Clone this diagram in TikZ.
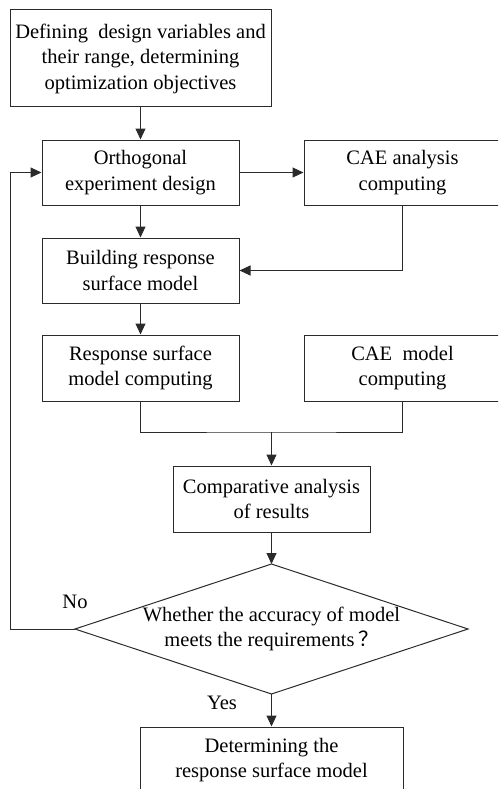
\documentclass[tikz,border=0pt]{standalone}
\usepackage{fontspec}
\setmainfont{Liberation Serif}
\newfontfamily\cjkfont{Noto Sans CJK SC}
\usetikzlibrary{arrows.meta,shapes.geometric}
\definecolor{linec}{HTML}{2B2B2B}
\begin{document}
\begin{tikzpicture}[x=1pt,y=-1pt,
  txt/.style={font=\fontsize{20.5}{25.5}\selectfont, text=black},
  box/.style={txt, draw=linec, line width=1pt, rectangle, inner sep=0pt, align=center},
  stdbox/.style={box, minimum width=197pt, minimum height=65pt},
  conn/.style={draw=linec, line width=1pt},
  arr/.style={conn, -{Triangle[length=11pt,width=10pt]}},
  lbl/.style={txt, inner sep=0pt}]
\useasboundingbox (0,0) rectangle (498,789);
\clip (0,0) rectangle (498,789);
\node[box, minimum width=261pt, minimum height=97pt] (def) at (140.5,58.5) {Defining\ \ design variables and\\their range, determining\\optimization objectives};
\node[stdbox] (orth) at (140.5,172.5) {Orthogonal\\experiment design};
\node[stdbox] (cae1) at (402.5,172.5) {CAE analysis\\computing};
\node[stdbox] (build) at (140.5,270.5) {Building response\\surface model};
\node[stdbox, minimum height=66pt] (resp) at (140.5,368) {Response surface\\model computing};
\node[stdbox, minimum height=66pt] (cae2) at (402.5,368) {CAE\ \ model\\computing};
\node[stdbox, minimum height=66pt] (comp) at (271.5,499) {Comparative analysis\\of results};
\coordinate (dt) at (271.5,564);
\coordinate (dr) at (468,629);
\coordinate (db) at (271.5,694);
\coordinate (dl) at (75,629);
\draw[conn] (dt) -- (dr) -- (db) -- (dl) -- cycle;
\node[txt, align=center, inner sep=0pt] (dec) at (271.5,629) {Whether the accuracy of model\\meets the requirements\,{\cjkfont ？}};
\node[box, minimum width=263pt, minimum height=66pt] (fin) at (271.5,760) {Determining the\\response surface model};
\node[lbl] (no) at (75,602) {No};
\node[lbl] (yes) at (222,703) {Yes};
\coordinate (m) at (271.5,432);
\coordinate (lp) at (10,629);
\draw[arr] (def.south) -- (orth.north);
\draw[arr] (orth.east) -- (cae1.west);
\draw[arr] (orth.south) -- (build.north);
\draw[arr] (cae1.south) |- (build.east);
\draw[arr] (build.south) -- (resp.north);
\draw[conn] (resp.south) |- (m) -| (cae2.south);
\draw[arr] (m) -- (comp.north);
\draw[arr] (comp.south) -- (dt);
\draw[arr] (dl) -- (lp) |- (orth.west);
\draw[arr] (db) -- (fin.north);
\end{tikzpicture}
\end{document}
